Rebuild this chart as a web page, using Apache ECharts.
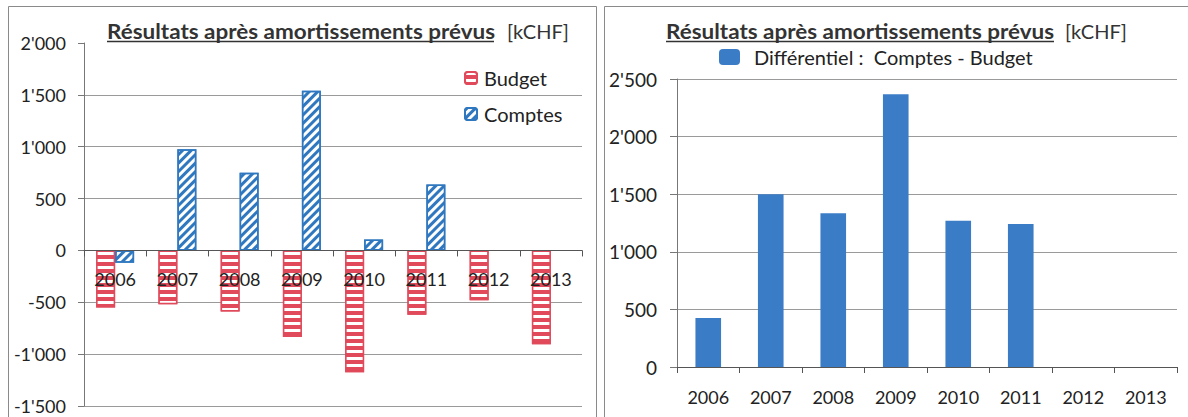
<!DOCTYPE html>
<html>
<head>
<meta charset="utf-8">
<script src="https://cdn.jsdelivr.net/npm/echarts@6/dist/echarts.min.js"></script>
<style>
html,body{margin:0;padding:0;background:#fff;}
#c{width:1188px;height:417px;}
</style>
</head>
<body>
<div id="c"></div>
<script>
const categories = ['2006', '2007', '2008', '2009', '2010', '2011', '2012', '2013'];
const budget = [-550, -520, -590, -835, -1175, -620, -480, -905];
const comptes = [-120, 975, 750, 1540, 105, 635, null, null];
const differentiel = [425, 1500, 1335, 2367, 1270, 1242, null, null];
const leftTicks = [-1500, -1000, -500, 0, 500, 1000, 1500, 2000];
const rightTicks = [0, 500, 1000, 1500, 2000, 2500];
const titleMain = 'Résultats après amortissements prévus';
const titleUnit = '[kCHF]';
const diffName = 'Différentiel :  Comptes - Budget';

const FONT = 'Lato, "Open Sans", sans-serif';
const TXT = '#222';
const RED = '#e04a5a';
const BLUE = '#2f78c0';
const BAR2 = '#3b7cc6';
const GRID = '#9a9a9a';

function fmt(v) {
  const a = Math.abs(v);
  const s = a >= 1000 ? Math.floor(a / 1000) + "'" + String(a % 1000).padStart(3, '0') : String(a);
  return (v < 0 ? '-' : '') + s;
}

const chart = echarts.init(document.getElementById('c'), null, {renderer: 'svg'});

const leftMin = leftTicks[0], leftMax = leftTicks[leftTicks.length - 1];
const leftGrid = {left: 84, top: 43, width: 498, height: 363};
// place the category axis of the left chart on the value 0 of its value axis
const zeroOffset = -leftGrid.height * (0 - leftMin) / (leftMax - leftMin);
const leftSplitColors = leftTicks.map((t, i) => i === leftTicks.length - 1 ? 'rgba(0,0,0,0)' : GRID);

chart.setOption({
  animation: false,
  textStyle: {fontFamily: FONT, color: TXT},
  graphic: [
    {type: 'rect', shape: {x: 8.5, y: 6.5, width: 588, height: 430}, style: {fill: 'none', stroke: '#8a8a8a', lineWidth: 1}, z: 0},
    {type: 'rect', shape: {x: 604.5, y: 6.5, width: 600, height: 430}, style: {fill: 'none', stroke: '#8a8a8a', lineWidth: 1}, z: 0},
    {type: 'text', x: 107, y: 31, scaleX: 1.07, style: {text: titleMain, font: 'bold 21px ' + FONT, fill: '#333', textVerticalAlign: 'middle'}},
    {type: 'text', x: 507, y: 31, style: {text: titleUnit, font: '20px ' + FONT, fill: '#333', textVerticalAlign: 'middle'}},
    {type: 'line', shape: {x1: 107, y1: 41.5, x2: 494, y2: 41.5}, style: {stroke: '#333', lineWidth: 1.5}},
    {type: 'text', x: 666, y: 31, scaleX: 1.07, style: {text: titleMain, font: 'bold 21px ' + FONT, fill: '#333', textVerticalAlign: 'middle'}},
    {type: 'text', x: 1065, y: 31, style: {text: titleUnit, font: '20px ' + FONT, fill: '#333', textVerticalAlign: 'middle'}},
    {type: 'line', shape: {x1: 666, y1: 41.5, x2: 1054, y2: 41.5}, style: {stroke: '#333', lineWidth: 1.5}}
  ],
  legend: [
    {
      data: ['Budget', 'Comptes'], orient: 'vertical', left: 459, top: 63,
      itemWidth: 12, itemHeight: 12, itemGap: 16,
      textStyle: {fontSize: 20, color: TXT, fontFamily: FONT, padding: [0, 0, 0, 2]}
    },
    {
      data: [diffName], left: 714, top: 42,
      itemWidth: 21, itemHeight: 16,
      textStyle: {fontSize: 20, color: TXT, fontFamily: FONT, padding: [0, 0, 0, 9]}
    }
  ],
  grid: [
    Object.assign({containLabel: false, outerBoundsMode: 'none'}, leftGrid),
    {left: 677, top: 79, width: 500, height: 288, containLabel: false, outerBoundsMode: 'none'}
  ],
  xAxis: [
    {
      type: 'category', gridIndex: 0, data: categories, z: 5,
      position: 'bottom', offset: zeroOffset,
      axisLine: {onZero: false, lineStyle: {color: '#555', width: 1}},
      axisTick: {show: true, length: 6, lineStyle: {color: '#555'}},
      axisLabel: {fontSize: 18, color: TXT, margin: 20, fontFamily: FONT}
    },
    {
      type: 'category', gridIndex: 1, data: categories,
      axisLine: {lineStyle: {color: '#555', width: 1}},
      axisTick: {show: true, length: 6, lineStyle: {color: '#555'}},
      axisLabel: {fontSize: 18, color: TXT, margin: 21, fontFamily: FONT}
    }
  ],
  yAxis: [
    {
      type: 'value', gridIndex: 0, min: leftMin, max: leftMax, interval: 500,
      axisLine: {show: true, lineStyle: {color: '#777'}},
      axisTick: {show: true, length: 6, lineStyle: {color: '#777'}},
      axisLabel: {fontSize: 18, color: TXT, margin: 18, formatter: fmt, fontFamily: FONT},
      splitLine: {show: true, lineStyle: {color: leftSplitColors, width: 1}}
    },
    {
      type: 'value', gridIndex: 1, min: rightTicks[0], max: rightTicks[rightTicks.length - 1], interval: 500,
      axisLine: {show: true, lineStyle: {color: '#777'}},
      axisTick: {show: true, length: 7, lineStyle: {color: '#777'}},
      axisLabel: {fontSize: 19, color: TXT, margin: 20, formatter: fmt, fontFamily: FONT},
      splitLine: {show: true, lineStyle: {color: GRID, width: 1}}
    }
  ],
  series: [
    {
      name: 'Budget', type: 'bar', xAxisIndex: 0, yAxisIndex: 0, data: budget,
      barGap: '0%', barCategoryGap: '39%',
      itemStyle: {
        color: RED, borderColor: RED, borderWidth: 1.5,
        decal: {symbol: 'rect', symbolSize: 1, color: '#ffffff', dashArrayX: [8, 0], dashArrayY: [3, 4], rotation: 0}
      }
    },
    {
      name: 'Comptes', type: 'bar', xAxisIndex: 0, yAxisIndex: 0, data: comptes,
      itemStyle: {
        color: '#ffffff', borderColor: BLUE, borderWidth: 1.5,
        decal: {symbol: 'rect', symbolSize: 1, color: BLUE, dashArrayX: [8, 0], dashArrayY: [3, 3], rotation: -Math.PI / 4}
      }
    },
    {
      name: diffName, type: 'bar', xAxisIndex: 1, yAxisIndex: 1, data: differentiel,
      barCategoryGap: '59%',
      itemStyle: {color: BAR2}
    }
  ]
});
</script>
</body>
</html>
